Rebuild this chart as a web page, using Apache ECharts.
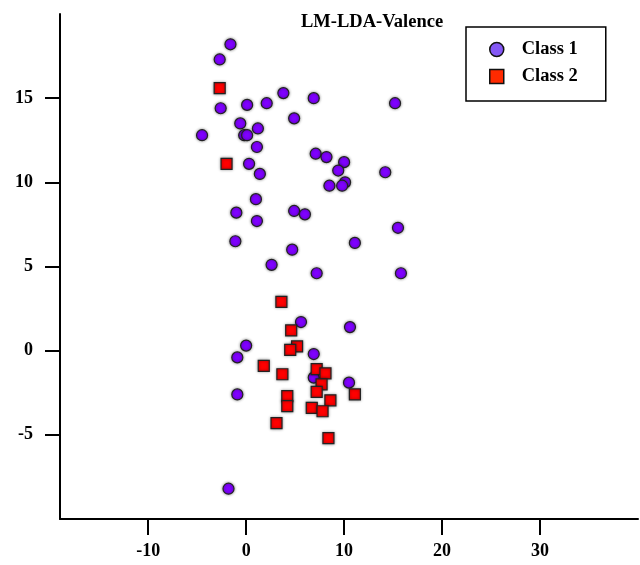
<!DOCTYPE html>
<html>
<head>
<meta charset="utf-8">
<title>LM-LDA-Valence</title>
<script src="https://cdn.jsdelivr.net/npm/echarts@6/dist/echarts.min.js"></script>
<style>
  html, body { margin: 0; padding: 0; background: #fff; }
  #chart { width: 640px; height: 565px; }
</style>
</head>
<body>
<div id="chart"></div>
<script>
// class 1 points (circles), [x, y]
var class1 = [
  [-1.6, 18.2], [-2.7, 17.3], [-2.6, 14.4], [0.1, 14.6], [2.1, 14.7],
  [3.8, 15.3], [6.9, 15.0], [15.2, 14.7], [4.9, 13.8], [-4.5, 12.8],
  [-0.6, 13.5], [1.2, 13.2], [-0.2, 12.8], [0.1, 12.8], [1.1, 12.1],
  [0.3, 11.1], [1.4, 10.5], [7.1, 11.7], [8.2, 11.5], [10.0, 11.2],
  [9.4, 10.7], [10.1, 10.0], [8.5, 9.8], [9.8, 9.8], [14.2, 10.6],
  [1.0, 9.0], [-1.0, 8.2], [4.9, 8.3], [6.0, 8.1], [1.1, 7.7],
  [15.5, 7.3], [-1.1, 6.5], [4.7, 6.0], [11.1, 6.4], [2.6, 5.1],
  [7.2, 4.6], [15.8, 4.6], [5.6, 1.7], [10.6, 1.4], [0.0, 0.3],
  [-0.9, -0.4], [6.9, -0.2], [6.9, -1.6], [10.5, -1.9], [-0.9, -2.6],
  [-1.8, -8.2]
];
// class 2 points (squares), [x, y]
var class2 = [
  [-2.7, 15.6], [-2.0, 11.1], [3.6, 2.9], [4.6, 1.2], [5.2, 0.25],
  [4.5, 0.05], [1.8, -0.9], [3.7, -1.4], [7.2, -1.1], [8.1, -1.35],
  [7.7, -2.0], [7.2, -2.45], [8.6, -2.95], [11.1, -2.6], [4.2, -2.7],
  [4.2, -3.3], [6.7, -3.4], [7.8, -3.6], [3.1, -4.3], [8.4, -5.2]
];
var xTicks = [-10, 0, 10, 20, 30];
var yTicks = [-5, 0, 5, 10, 15];
var seriesNames = ['Class 1', 'Class 2'];
var titleText = 'LM-LDA-Valence';

var chart = echarts.init(document.getElementById('chart'));
var serif = '"Liberation Serif", "DejaVu Serif", serif';

// soft grey halo round every marker
var markerShadow = {
  shadowBlur: 3,
  shadowColor: 'rgba(0,0,0,0.45)'
};

var option = {
  animation: false,
  backgroundColor: '#fff',
  title: {
    text: titleText,
    left: 296,
    top: 8,
    textStyle: { fontFamily: serif, fontWeight: 'bold', fontSize: 18.5, color: '#000' }
  },
  legend: {
    orient: 'vertical',
    left: 466,
    top: 27,
    borderColor: '#000',
    borderWidth: 1.5,
    borderRadius: 0,
    padding: [13, 28, 15, 23],
    itemGap: 8,
    itemWidth: 14,
    itemHeight: 14,
    textStyle: { fontFamily: serif, fontWeight: 'bold', fontSize: 18.5, color: '#000', padding: [0, 0, 0, 13] },
    data: [
      { name: seriesNames[0], icon: 'circle', itemStyle: { color: '#8458f5', opacity: 1, borderColor: '#111', borderWidth: 1.5 } },
      { name: seriesNames[1], icon: 'rect', itemStyle: { color: '#ff2a00', opacity: 1, borderColor: '#111', borderWidth: 1.5 } }
    ]
  },
  grid: { left: 60, right: 2, top: 14, bottom: 46 },
  xAxis: {
    type: 'value',
    min: -19,
    max: 40,
    axisLine: { show: true, onZero: false, lineStyle: { color: '#000', width: 2 } },
    axisTick: { show: true, customValues: xTicks, length: 16, lineStyle: { color: '#000', width: 2 } },
    axisLabel: {
      customValues: xTicks,
      margin: 23,
      fontFamily: serif, fontWeight: 'bold', fontSize: 18, color: '#000'
    },
    splitLine: { show: false }
  },
  yAxis: {
    type: 'value',
    min: -10,
    max: 20,
    axisLine: { show: true, onZero: false, lineStyle: { color: '#000', width: 2 } },
    axisTick: { show: true, customValues: yTicks, length: 15, lineStyle: { color: '#000', width: 2 } },
    axisLabel: {
      customValues: yTicks,
      margin: 27,
      fontFamily: serif, fontWeight: 'bold', fontSize: 18, color: '#000'
    },
    splitLine: { show: false }
  },
  series: [
    {
      name: seriesNames[0],
      type: 'scatter',
      symbol: 'circle',
      symbolSize: 11,
      data: class1,
      itemStyle: Object.assign({ color: '#7f00ff', opacity: 1, borderColor: '#222', borderWidth: 1.2 }, markerShadow)
    },
    {
      name: seriesNames[1],
      type: 'scatter',
      symbol: 'rect',
      symbolSize: 11,
      data: class2,
      itemStyle: Object.assign({ color: '#ff0000', opacity: 1, borderColor: '#222', borderWidth: 1.2 }, markerShadow)
    }
  ]
};

chart.setOption(option);
</script>
</body>
</html>
